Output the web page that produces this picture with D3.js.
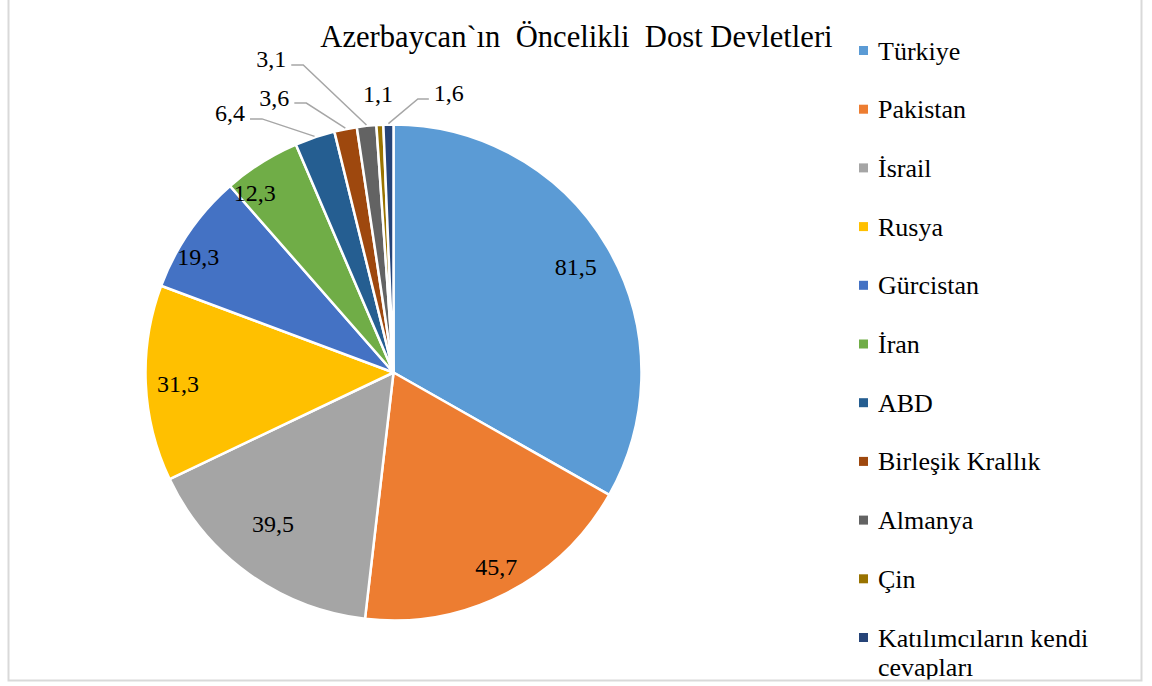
<!DOCTYPE html>
<html>
<head>
<meta charset="utf-8">
<script src="https://cdn.jsdelivr.net/npm/d3@7"></script>
<style>
  body { margin: 0; background: #fff; }
</style>
</head>
<body>
<div id="chart"></div>
<script>
const categories = ["Türkiye", "Pakistan", "İsrail", "Rusya", "Gürcistan", "İran", "ABD",
  "Birleşik Krallık", "Almanya", "Çin", "Katılımcıların kendi cevapları"];
const values = [81.5, 45.7, 39.5, 31.3, 19.3, 12.3, 6.4, 3.6, 3.1, 1.1, 1.6];
const colors = ["#5B9BD5", "#ED7D31", "#A5A5A5", "#FFC000", "#4472C4", "#70AD47",
  "#255E91", "#9E480E", "#636363", "#997300", "#264478"];
const title = "Azerbaycan`ın  Öncelikli  Dost Devletleri";

const width = 1152, height = 686;
const cx = 393.5, cy = 372.5, R = 248;
const serif = "'Liberation Serif', 'Times New Roman', 'DejaVu Serif', serif";

// label placement (angle shift in degrees, radius as share of R)
const inside = {
  "Türkiye": [0, 0.85], "Pakistan": [-1, 0.885], "İsrail": [3, 0.78],
  "Rusya": [-0.5, 0.87], "Gürcistan": [-4, 0.915], "İran": [-5.5, 0.915]
};
const outside = {
  "ABD": [-32.2, 1.237, "left"], "Birleşik Krallık": [-23.4, 1.21, "left"],
  "Almanya": [-21.3, 1.357, "left"], "Çin": [-3.2, 1.125, "none"],
  "Katılımcıların kendi cevapları": [11.2, 1.149, "right"]
};

const data = categories.map((c, i) => ({ name: c, value: values[i], color: colors[i] }));

const svg = d3.select("#chart").append("svg")
  .attr("width", width).attr("height", height)
  .attr("font-family", serif);

// title
svg.append("text")
  .attr("x", 576.5).attr("y", 47)
  .attr("text-anchor", "middle")
  .attr("font-size", "30.6px")
  .attr("font-family", serif)
  .style("white-space", "pre")
  .text(title);

const pie = d3.pie().sort(null).value(d => d.value);
const arcs = pie(data);
const arc = d3.arc().innerRadius(0).outerRadius(R);

const g = svg.append("g").attr("transform", `translate(${cx},${cy})`);

g.selectAll("path")
  .data(arcs)
  .join("path")
  .attr("d", arc)
  .attr("fill", d => d.data.color)
  .attr("stroke", "#fff")
  .attr("stroke-width", 2.5)
  .attr("stroke-linejoin", "round");

const fmt = v => String(v).replace(".", ",");
const polar = (a, r) => [r * Math.sin(a), -r * Math.cos(a)];
const mid = d => (d.startAngle + d.endAngle) / 2;
const rad = Math.PI / 180;

// inside labels
g.selectAll("text.in")
  .data(arcs.filter(d => inside[d.data.name]))
  .join("text")
  .attr("class", "in")
  .attr("font-family", serif)
  .attr("font-size", "24px")
  .attr("text-anchor", "middle")
  .attr("dy", "0.35em")
  .attr("transform", d => {
    const [da, f] = inside[d.data.name];
    const [x, y] = polar(mid(d) + da * rad, f * R);
    return `translate(${x},${y})`;
  })
  .text(d => fmt(d.data.value));

// outside labels with leader lines
arcs.filter(d => outside[d.data.name]).forEach(d => {
  const [a, f, side] = outside[d.data.name];
  const [x, y] = polar(a * rad, f * R);
  const t = g.append("text")
    .attr("x", x).attr("y", y)
    .attr("dy", "0.35em")
    .attr("text-anchor", "middle")
    .attr("font-family", serif)
    .attr("font-size", "24px")
    .text(fmt(d.data.value));
  if (side === "none") return;
  const bb = t.node().getBBox();
  const ly = y + 6;
  const end = polar(mid(d), R + 1);
  let pts;
  if (side === "left") {
    const sx = bb.x + bb.width + 5;
    pts = [[sx, ly], [sx + 12, ly], end];
  } else {
    const sx = bb.x - 5;
    pts = [[sx, ly], [sx - 11, ly], end];
  }
  g.append("path")
    .attr("d", d3.line()(pts))
    .attr("fill", "none")
    .attr("stroke", "#a6a6a6")
    .attr("stroke-width", 1.5);
});

// legend
svg.append("clipPath").attr("id", "clip")
  .append("rect").attr("x", 0).attr("y", 0).attr("width", width).attr("height", 680);

const legend = svg.append("g").attr("clip-path", "url(#clip)");
const rowY = d3.scalePoint().domain(categories).range([50.5, 637.5]);

categories.forEach((c, i) => {
  const y = rowY(c);
  legend.append("rect")
    .attr("x", 859).attr("y", y - 4.5)
    .attr("width", 9).attr("height", 9)
    .attr("fill", colors[i]);
  const t = legend.append("text")
    .attr("x", 878).attr("y", y + 9)
    .attr("font-family", serif)
    .attr("font-size", "26px");
  // simple word wrap
  const words = c.split(" ");
  let line = [];
  let ts = t.append("tspan").attr("x", 878);
  words.forEach(w => {
    line.push(w);
    ts.text(line.join(" "));
    if (ts.node().getComputedTextLength() > 250 && line.length > 1) {
      line.pop();
      ts.text(line.join(" "));
      line = [w];
      ts = t.append("tspan").attr("x", 878).attr("dy", 29.5).text(w);
    }
  });
});

// outer border
svg.append("rect")
  .attr("x", 8.5).attr("y", -10)
  .attr("width", 1133).attr("height", 690.5)
  .attr("fill", "none")
  .attr("stroke", "#d9d9d9")
  .attr("stroke-width", 2);
</script>
</body>
</html>
